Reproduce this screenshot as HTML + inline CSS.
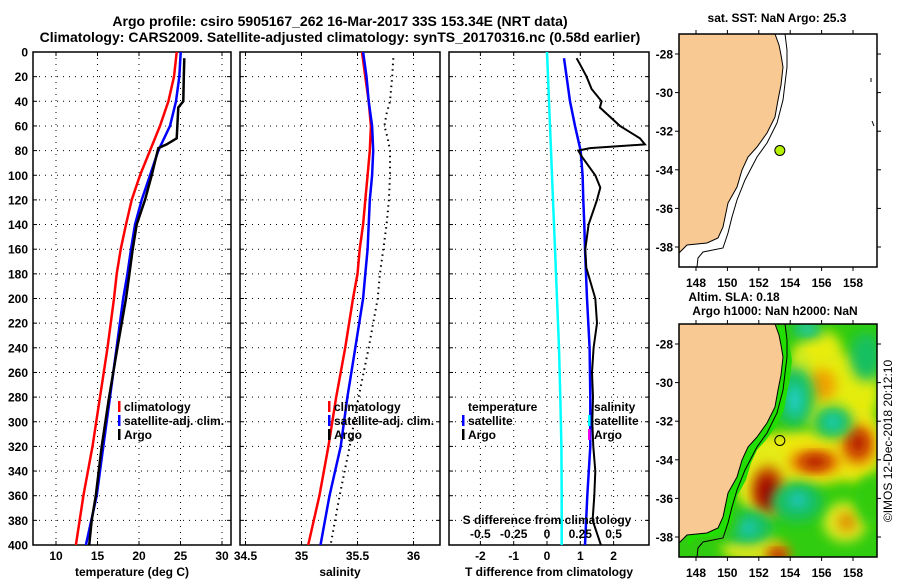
<!DOCTYPE html>
<html><head><meta charset="utf-8"><style>
body{margin:0;background:#fff;}
svg{display:block;font-family:"Liberation Sans",sans-serif;font-weight:bold;}
</style></head><body>
<svg id="fig" width="900" height="580" viewBox="0 0 900 580" xmlns="http://www.w3.org/2000/svg">
<defs>
<clipPath id="c1"><rect x="33" y="52" width="198" height="493"/></clipPath>
<clipPath id="c2"><rect x="240" y="52" width="200" height="493"/></clipPath>
<clipPath id="c3"><rect x="449" y="52" width="200" height="493"/></clipPath>
<clipPath id="cm1"><rect x="679" y="34" width="198" height="233"/></clipPath>
<clipPath id="cm2"><rect x="679" y="324" width="198" height="233"/></clipPath>
<filter id="bl" x="-50%" y="-50%" width="200%" height="200%"><feGaussianBlur stdDeviation="6"/></filter>
</defs>
<g id="titles" font-size="14" text-anchor="middle">
<text x="340" y="26">Argo profile: csiro 5905167_262 16-Mar-2017 33S 153.34E (NRT data)</text>
<text x="340" y="42">Climatology: CARS2009. Satellite-adjusted climatology: synTS_20170316.nc (0.58d earlier)</text>
</g>
<g id="layer"></g>
</svg>
<script>
// ---- data ----
const depths = [0,20,40,60,80,100,120,140,160,180,200,240,280,320,360,400];
const tempClim = [24.54,24.22,23.54,22.53,21.33,20.12,19.12,18.43,17.79,17.31,16.99,16.2,15.3,14.4,13.3,12.4];
const tempSat  = [25.02,24.86,24.46,23.74,22.33,21.33,20.33,19.52,19.04,18.6,18.1,17.3,16.5,15.7,14.9,13.6];
const argoDepths = [5,20,40,45,70,75,78,100,120,140,160,180,200,240,280,320,360,380,400];
const tempArgo = [25.46,25.4,25.34,24.74,24.54,23.33,22.33,21.53,20.72,19.72,19.24,18.84,18.43,17.4,16.4,15.5,14.8,14.3,14.0];
const salClim = [35.54,35.57,35.60,35.62,35.61,35.59,35.57,35.55,35.52,35.50,35.46,35.39,35.31,35.24,35.16,35.06];
const salSat  = [35.55,35.58,35.60,35.63,35.64,35.63,35.61,35.60,35.59,35.57,35.55,35.48,35.41,35.35,35.25,35.17];
const salArgoDepths = [5,20,40,50,60,70,80,100,120,140,160,180,200,240,280,320,360,400];
const salArgo = [35.82,35.81,35.79,35.76,35.74,35.77,35.79,35.79,35.78,35.76,35.73,35.70,35.68,35.60,35.51,35.43,35.34,35.26];
const tdiffDepths = [5,20,40,60,80,100,120,140,160,200,240,280,320,360,400];
const tdiffSat = [0.51,0.59,0.69,0.84,1.01,1.07,1.09,1.12,1.14,1.2,1.28,1.3,1.3,1.21,1.14];
const tdiffArgoDepths = [5,10,20,30,40,45,60,70,75,78,80,85,100,110,120,140,160,175,200,220,240,260,280,300,320,340,360,380,400];
const tdiffArgo = [0.89,0.99,1.19,1.34,1.64,1.59,2.19,2.79,2.94,1.29,0.94,1.05,1.45,1.6,1.5,1.25,1.15,1.18,1.45,1.5,1.4,1.35,1.38,1.36,1.39,1.45,1.42,1.37,1.62];
const sdiffDepths = [0,40,80,120,160,200,240,280,320,360,400];
const sdiffSat = [0,0.015,0.03,0.045,0.06,0.075,0.09,0.1,0.108,0.11,0.11];
const depthTicks = [0,20,40,60,80,100,120,140,160,180,200,220,240,260,280,300,320,340,360,380,400];
const tempTicks = [10,15,20,25,30];
const salTicks = [34.5,35,35.5,36];
const salTickLabels = ["34.5","35","35.5","36"];
const tdTicks = [-2,-1,0,1,2];
const sdTicks = [-0.5,-0.25,0,0.25,0.5];
const sdTickLabels = ["-0.5","-0.25","0","0.25","0.5"];
const lonTicks = [148,150,152,154,156,158];
const latTicks = [-28,-30,-32,-34,-36,-38];

// ---- scales ----
const yD = d => 52 + d*1.2325;
const xT = t => 56 + (t-10)*8.3;
const xS = s => 245.5 + (s-34.5)*112;
const xTD = t => 547 + t*33.3;
const xSD = s => xTD(s*4);
const mx = lon => 696 + (lon-148)*15.7;
const my = (lat,off) => off + 54 + (-28-lat)*19.3;

const NS='http://www.w3.org/2000/svg';
const layer=document.getElementById('layer');
function mk(tag,attrs,parent){const e=document.createElementNS(NS,tag);for(const k in attrs)e.setAttribute(k,attrs[k]);(parent||layer).appendChild(e);return e;}
function txt(x,y,s,anchor,size,parent){const e=mk('text',{x:x,y:y,'text-anchor':anchor||'middle','font-size':size||12},parent);e.textContent=s;return e;}
function line(xs,ds,fx,color,w,clip,dash){
  const pts=xs.map((v,i)=>fx(v).toFixed(1)+','+yD(ds[i]).toFixed(1)).join(' ');
  const a={points:pts,fill:'none',stroke:color,'stroke-width':w,'clip-path':'url(#'+clip+')'};
  if(dash)a['stroke-dasharray']=dash;
  return mk('polyline',a);
}

// panels
const panels=[
 {x0:33,x1:231,clip:'c1',ticks:tempTicks,labels:tempTicks.map(String),fx:xT,title:'temperature (deg C)',name:'temperature'},
 {x0:240,x1:440,clip:'c2',ticks:salTicks,labels:salTickLabels,fx:xS,title:'salinity',name:'salinity'},
 {x0:449,x1:649,clip:'c3',ticks:tdTicks,labels:tdTicks.map(String),fx:xTD,title:'T difference from climatology',name:'difference'}
];
panels.forEach((p,pi)=>{
  const g=mk('g',{});
  
  
  depthTicks.forEach(d=>{
    if(d>0&&d<400){const gl=mk('line',{x1:p.x0,x2:p.x1,y1:yD(d),y2:yD(d),stroke:'#000','stroke-width':1,'stroke-dasharray':'1,5'},g);
    
    }
    mk('line',{x1:p.x0,x2:p.x0+4,y1:yD(d),y2:yD(d),stroke:'#000'},g);
    mk('line',{x1:p.x1,x2:p.x1-4,y1:yD(d),y2:yD(d),stroke:'#000'},g);
    if(pi===0){const t=txt(28,yD(d)+4.5,String(d),'end',12,g);
      
      }
  });
  p.ticks.forEach((v,i)=>{
    const x=p.fx(v);
    const gl=mk('line',{x1:x,x2:x,y1:52,y2:545,stroke:'#000','stroke-dasharray':'1,5'},g);
    
    
    mk('line',{x1:x,x2:x,y1:545,y2:541,stroke:'#000'},g);
    mk('line',{x1:x,x2:x,y1:52,y2:56,stroke:'#000'},g);
    const t=txt(x,560,p.labels[i],'middle',12,g);
    
    
  });
  const fr=mk('rect',{x:p.x0,y:52,width:p.x1-p.x0,height:493,fill:'none',stroke:'#000','stroke-width':1.5},g);
  
  
  const at=txt((p.x0+p.x1)/2,576,p.title,'middle',12,g);
  
  
});

// series
let s;
s=line(tempClim,depths,xT,'#f00',2.5,'c1');  
s=line(tempSat,depths,xT,'#00f',2.5,'c1');  
s=line(tempArgo,argoDepths,xT,'#000',2.5,'c1');  
s=line(salClim,depths,xS,'#f00',2.5,'c2');  
s=line(salSat,depths,xS,'#00f',2.5,'c2');  
s=line(salArgo,salArgoDepths,xS,'#000',2,'c2','1.5,4');  
s=line(sdiffSat,sdiffDepths,xSD,'#0ff',2.5,'c3');  
s=line(tdiffSat,tdiffDepths,xTD,'#00f',2.5,'c3');  
s=line(tdiffArgo,tdiffArgoDepths,xTD,'#000',2,'c3');  

// S diff secondary axis labels
const sdG=mk('g',{});


txt(547,524,'S difference from climatology','middle',12,sdG);
sdTicks.forEach((v,i)=>txt(xSD(v),538,sdTickLabels[i],'middle',12,sdG));

// legends
function legend(x,y,items,name){
  const g=mk('g',{});
  
  
  items.forEach((it,i)=>{
    if(it.c) mk('rect',{x:x,y:y+i*14-10,width:2.5,height:11,fill:it.c},g);
    txt(x+6,y+i*14,it.t,'start',12,g);
  });
}
legend(118,411,[{c:'#f00',t:'climatology'},{c:'#00f',t:'satellite-adj. clim.'},{c:'#000',t:'Argo'}],'temperature-legend');
legend(328,411,[{c:'#f00',t:'climatology'},{c:'#00f',t:'satellite-adj. clim.'},{c:'#000',t:'Argo'}],'salinity-legend');
legend(462,411,[{t:'temperature'},{c:'#00f',t:'satellite'},{c:'#000',t:'Argo'}],'tdiff-legend');
legend(588,411,[{t:'salinity'},{c:'#0ff',t:'satellite'},{c:'#e0e',t:'Argo'}],'sdiff-legend');

// ---- maps ----
const landPts=[[679,34],[775,34],[779,45],[781,55],[783,67],[781,85],[778,100],[775,117],[767,133],[757,147],[748,157],[742,170],[737,187],[728,203],[723,227],[718,238],[707,243],[687,245],[679,253]];
const isoPts=[[785,34],[787,50],[787,67],[783,100],[777,123],[767,143],[757,157],[745,180],[737,200],[732,217],[728,233],[723,248],[703,252],[698,258],[697,267]];
function poly(pts,off){return pts.map(p=>p[0]+','+(p[1]+off)).join(' ');}
function drawMap(off,clip,name,field){
  const g=mk('g',{'clip-path':'url(#'+clip+')'});
  
  
  mk('rect',{x:679,y:34+off,width:198,height:233,fill:field?'#30cc10':'#fff'},g);
  if(field){
    const blobs=[
      ['#e4ec10',835,392,45,40],['#eee810',805,458,60,28],['#e4ec18',762,478,28,40],['#eee810',858,445,25,38],['#e8ec10',820,350,22,20],['#e8e818',752,548,30,14],['#e0ec20',845,522,22,20],['#e0ee20',800,375,10,30],
      ['#f0a000',822,385,14,16],['#e88000',815,462,26,12],['#e07800',858,445,18,20],['#d07000',768,490,17,25],['#e09000',847,522,10,10],['#e08000',778,553,13,9],
      ['#b01000',815,462,15,7],['#b01000',858,443,8,12],['#a00000',767,492,10,18],['#b00000',778,556,8,5],
      ['#18c060',795,397,20,30],['#18c060',833,422,20,16],['#18c060',797,502,26,20],['#18c060',747,527,26,18],['#18c060',866,357,16,24],['#18c060',807,330,16,9],['#30cc10',870,500,15,25],['#30cc10',720,520,20,20],
      ['#20d0d0',795,400,7,16],['#20d0d0',833,422,7,7],['#20c8d0',798,500,9,7],['#20c8c0',748,528,9,7],['#30d0d0',807,328,7,5]
    ];
    blobs.forEach(b=>mk('ellipse',{cx:b[1],cy:b[2],rx:b[3],ry:b[4],fill:b[0],filter:'url(#bl)'},g));
    mk('polygon',{points:poly(landPts.map(p=>[p[0]+9,p[1]+3]),off),fill:'#22dd00'},g);
  }
  mk('polygon',{points:poly(landPts,off),fill:'#f9c994',stroke:'#000','stroke-width':1},g);
  mk('polyline',{points:poly(isoPts,off),fill:'none',stroke:'#000','stroke-width':1},g);
  if(!field){
    mk('polyline',{points:'871,78 871,82',stroke:'#000',fill:'none'},g);
    mk('polyline',{points:'872,121 874,126',stroke:'#000',fill:'none'},g);
  }
  const fr=mk('rect',{x:679,y:34+off,width:198,height:233,fill:'none',stroke:'#000','stroke-width':1.5});
  
  
  const tg=mk('g',{});
  
  
  lonTicks.forEach(l=>{const x=mx(l);mk('line',{x1:x,x2:x,y1:267+off,y2:271+off,stroke:'#000'},tg);mk('line',{x1:x,x2:x,y1:34+off,y2:30+off,stroke:'#000'},tg);txt(x,287+off,String(l),'middle',12,tg);});
  latTicks.forEach(l=>{const y=my(l,off);mk('line',{x1:877,x2:881,y1:y,y2:y,stroke:'#000'},tg);mk('line',{x1:679,x2:675,y1:y,y2:y,stroke:'#000'},tg);txt(673,y+4.5,String(l),'end',12,tg);});
}
drawMap(0,'cm1','sst-map',false);
drawMap(290,'cm2','sla-map',true);
s=mk('circle',{cx:mx(153.34),cy:my(-33,0),r:5,fill:'#b4f000',stroke:'#000','stroke-width':1});  
s=mk('circle',{cx:mx(153.34),cy:my(-33,290),r:5,fill:'none',stroke:'#000','stroke-width':1});  
s=txt(777,22,'sat. SST: NaN Argo: 25.3','middle',12);  
s=txt(734,301,'Altim. SLA: 0.18','middle',12);  
s=txt(775,315,'Argo h1000: NaN h2000: NaN','middle',12);  
s=txt(0,0,'©IMOS 12-Dec-2018 20:12:10','middle',12); s.setAttribute('transform','translate(892,441) rotate(-90)'); s.setAttribute('font-weight','normal');
 
</script>
</body></html>
